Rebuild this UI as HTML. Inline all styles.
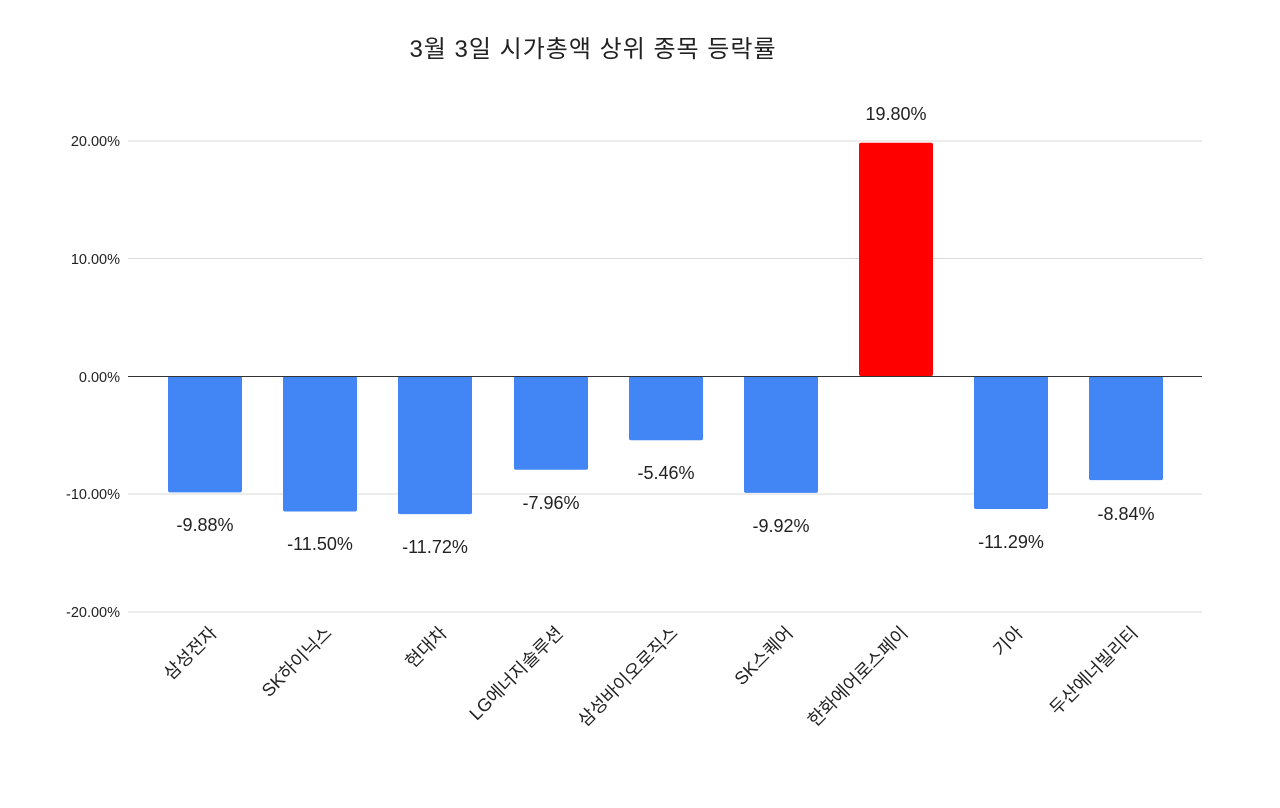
<!DOCTYPE html>
<html><head><meta charset="utf-8"><style>body{margin:0;background:#fff}svg{display:block}</style></head><body>
<svg width="1280" height="808" xmlns="http://www.w3.org/2000/svg" font-family="'Liberation Sans','Noto Sans CJK KR',sans-serif">
<rect width="1280" height="808" fill="#fff"/>
<text x="593" y="57" font-size="24" letter-spacing="1" text-anchor="middle" fill="#222">3월 3일 시가총액 상위 종목 등락률</text>
<g stroke="#d9d9d9" stroke-width="1">
<line x1="128" y1="141" x2="1202" y2="141"/><line x1="128" y1="258.5" x2="1202" y2="258.5"/>
<line x1="128" y1="494" x2="1202" y2="494"/><line x1="128" y1="612" x2="1202" y2="612"/>
</g>
<g font-size="14.5" fill="#222" text-anchor="end">
<text x="120" y="146">20.00%</text><text x="120" y="264">10.00%</text><text x="120" y="382">0.00%</text><text x="120" y="499">-10.00%</text><text x="120" y="617">-20.00%</text>
</g>
<g fill="#4285f4">
<rect x="168" y="376" width="74" height="116.4" rx="2"/>
<rect x="283" y="376" width="74" height="135.5" rx="2"/>
<rect x="398" y="376" width="74" height="138.1" rx="2"/>
<rect x="514" y="376" width="74" height="93.8" rx="2"/>
<rect x="629" y="376" width="74" height="64.3" rx="2"/>
<rect x="744" y="376" width="74" height="116.9" rx="2"/>
<rect x="974" y="376" width="74" height="133" rx="2"/>
<rect x="1089" y="376" width="74" height="104.1" rx="2"/>
</g>
<rect x="859" y="142.8" width="74" height="233.2" fill="#ff0000" rx="2"/>
<line x1="128" y1="376.5" x2="1202" y2="376.5" stroke="#333" stroke-width="1"/>
<g font-size="18" fill="#222" text-anchor="middle">
<text x="205" y="531">-9.88%</text><text x="320" y="550">-11.50%</text><text x="435" y="553">-11.72%</text>
<text x="551" y="509">-7.96%</text><text x="666" y="479">-5.46%</text><text x="781" y="532">-9.92%</text>
<text x="896" y="120">19.80%</text><text x="1011" y="548">-11.29%</text><text x="1126" y="520">-8.84%</text>
</g>
<g font-size="18" fill="#222" text-anchor="end">
<text transform="translate(218,634) rotate(-45)">삼성전자</text>
<text transform="translate(333,634) rotate(-45)">SK하이닉스</text>
<text transform="translate(448,634) rotate(-45)">현대차</text>
<text transform="translate(564,634) rotate(-45)">LG에너지솔루션</text>
<text transform="translate(679,634) rotate(-45)">삼성바이오로직스</text>
<text transform="translate(794,634) rotate(-45)">SK스퀘어</text>
<text transform="translate(909,634) rotate(-45)">한화에어로스페이</text>
<text transform="translate(1024,634) rotate(-45)">기아</text>
<text transform="translate(1139,634) rotate(-45)">두산에너빌리티</text>
</g>
</svg>
</body></html>
